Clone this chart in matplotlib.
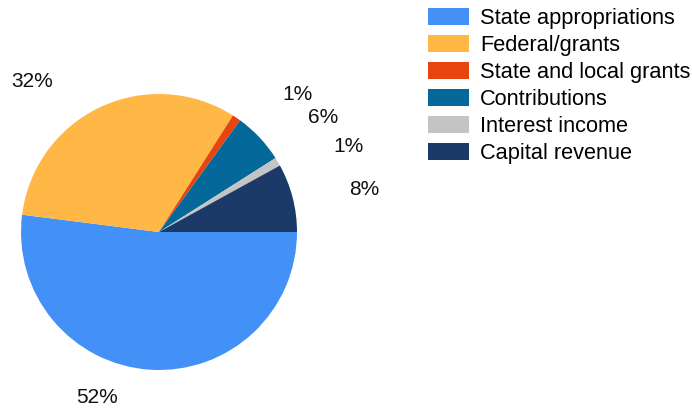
import matplotlib
matplotlib.use('Agg')
import matplotlib.pyplot as plt

# revenue shares (percent)
categories = ['State appropriations', 'Federal/grants', 'State and local grants',
              'Contributions', 'Interest income', 'Capital revenue']
shares = [52, 32, 1, 6, 1, 8]
colors = ['#4391F6', '#FFB846', '#E8440F', '#05689A', '#C4C4C4', '#1B3A68']

# where each percent label sits (pie radius units, centre at 0,0)
label_pos = [(-0.45, -1.20), (-0.92, 1.09), (1.00, 1.00),
             (1.19, 0.83), (1.37, 0.62), (1.49, 0.31)]

plt.rcParams['font.family'] = ['Liberation Sans', 'DejaVu Sans']

W, H, dpi = 692, 409, 100
fig = plt.figure(figsize=(W / dpi, H / dpi), dpi=dpi)
ax = fig.add_axes([0, 0, 1, 1])

cx, cy, r = 159, 232, 138   # pixel centre / radius

wedges, _ = ax.pie(shares, colors=colors, startangle=0, counterclock=False,
                   radius=1, center=(0, 0), frame=True,
                   wedgeprops=dict(linewidth=0))
ax.set_xlim(-cx / r, (W - cx) / r)
ax.set_ylim(-(H - cy) / r, cy / r)
ax.set_aspect('auto')
ax.axis('off')

for val, (x, y) in zip(shares, label_pos):
    ax.text(x, y, '%d%%' % val, ha='center', va='center', fontsize=15, color='#111111')

fs = 15.7
leg = fig.legend(wedges, categories, loc='upper left',
                 bbox_to_anchor=(428 / W, 1 - 8 / H), frameon=False,
                 fontsize=fs, handlelength=1.88, handleheight=0.83,
                 handletextpad=0.5, labelspacing=0.27, borderpad=0, borderaxespad=0)

fig.savefig('out.png', dpi=dpi)
